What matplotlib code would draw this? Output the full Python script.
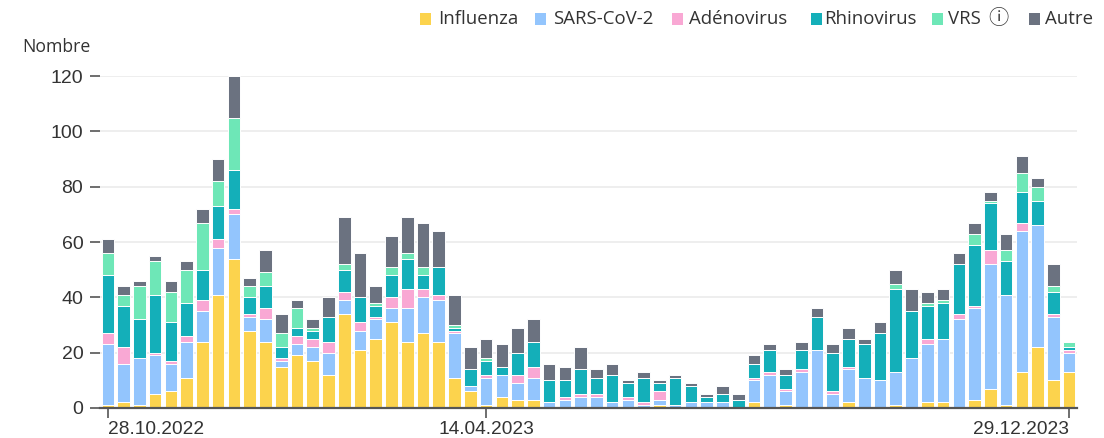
import numpy as np
import pandas as pd
import matplotlib
matplotlib.use('Agg')
import matplotlib.pyplot as plt
from matplotlib.patches import Rectangle

weeks = pd.date_range('2022-10-28', periods=62, freq='7D')

influenza = [1, 2, 1, 5, 6, 11, 24, 41, 54, 28, 24, 15, 19, 17, 12, 34, 21, 25, 31, 24,
             27, 24, 11, 6, 1, 4, 3, 3, 0, 0, 0, 0, 0, 0, 0, 1, 0, 0, 0, 0,
             0, 2, 0, 1, 0, 0, 0, 2, 0, 0, 1, 0, 2, 2, 0, 3, 7, 1, 13, 22, 10, 13]
sars = [22, 14, 17, 14, 10, 13, 11, 17, 16, 5, 8, 2, 4, 5, 8, 5, 7, 7, 5, 12,
        13, 15, 16, 2, 10, 8, 6, 8, 2, 3, 4, 4, 2, 3, 1, 2, 1, 2, 2, 2,
        0, 8, 12, 5, 13, 21, 5, 12, 11, 10, 12, 18, 21, 23, 32, 33, 45, 40, 51, 44, 23, 7]
adeno = [4, 6, 0, 1, 1, 2, 4, 3, 2, 1, 4, 1, 3, 3, 4, 3, 3, 1, 4, 7,
         3, 2, 1, 0, 1, 0, 3, 4, 0, 1, 1, 1, 0, 1, 1, 3, 0, 0, 0, 0,
         0, 1, 1, 1, 1, 0, 1, 1, 0, 0, 0, 0, 2, 0, 2, 1, 5, 0, 3, 0, 1, 1]
rhino = [21, 15, 14, 21, 14, 12, 11, 12, 14, 6, 8, 4, 3, 3, 9, 8, 9, 4, 8, 11,
         5, 10, 1, 6, 5, 3, 8, 9, 8, 6, 9, 6, 10, 5, 9, 3, 10, 6, 2, 3,
         3, 5, 8, 5, 7, 12, 14, 10, 12, 17, 30, 17, 12, 13, 18, 22, 17, 12, 11, 9, 8, 1]
vrs = [8, 4, 12, 12, 11, 12, 17, 9, 19, 4, 5, 5, 7, 1, 0, 2, 0, 1, 3, 2,
       3, 0, 1, 0, 1, 0, 0, 0, 0, 0, 0, 0, 0, 0, 0, 0, 0, 0, 0, 0,
       0, 0, 0, 0, 0, 0, 0, 0, 0, 0, 2, 0, 1, 1, 0, 4, 1, 4, 7, 5, 2, 2]
autre = [5, 3, 2, 2, 4, 3, 5, 8, 15, 3, 8, 7, 3, 3, 7, 17, 16, 6, 11, 13,
         16, 13, 11, 8, 7, 8, 9, 8, 6, 5, 8, 3, 4, 1, 2, 1, 1, 1, 1, 3,
         2, 3, 2, 2, 3, 3, 3, 4, 2, 4, 5, 8, 4, 4, 4, 4, 3, 6, 6, 3, 8, 0]

series = ['Influenza', 'SARS-CoV-2', 'Adénovirus', 'Rhinovirus', 'VRS', 'Autre']
values = [influenza, sars, adeno, rhino, vrs, autre]
colors = ['#FCD34D', '#93C5FD', '#F9A8D4', '#14AFB9', '#6EE7B7', '#6B7280']

tick_dates = ['2022-10-28', '2023-04-14', '2023-12-29']
tick_labels = ['28.10.2022', '14.04.2023', '29.12.2023']

fig = plt.figure(figsize=(11.04, 4.38), dpi=100)
W, H = 1104, 438
ax = fig.add_axes([100 / W, 30 / H, (1077 - 100) / W, (408 - 76) / H])

x = np.arange(len(weeks))
bottom = np.zeros(len(weeks))
for name, vals, c in zip(series, values, colors):
    v = np.array(vals, dtype=float)
    ax.bar(x, v, bottom=bottom, width=0.8, color=c, edgecolor='white',
           linewidth=0.7, label=name, zorder=3, clip_on=False)
    bottom += v

ax.set_xlim(-0.5, len(weeks) - 0.5)
ax.set_ylim(0, 120)
ax.set_yticks(range(0, 121, 20))
ax.grid(axis='y', color='#ebebeb', linewidth=1.2, zorder=0)
for s in ['top', 'right', 'left']:
    ax.spines[s].set_visible(False)
ax.spines['bottom'].set_color('#555555')
ax.spines['bottom'].set_linewidth(1.6)
ax.spines['bottom'].set_zorder(4)

ax.tick_params(axis='y', length=7, width=1.2, color='#555555', pad=5,
               labelsize=14, labelcolor='#333333')
for lab in ax.get_yticklabels():
    lab.set_fontfamily('Liberation Sans')

pos = [weeks.get_loc(pd.Timestamp(d)) for d in tick_dates]
ax.set_xticks(pos)
ax.set_xticklabels(tick_labels, fontfamily='Liberation Sans', fontsize=13.8,
                   color='#333333')
ax.tick_params(axis='x', length=7, width=1.2, color='#555555', pad=2)
labs = ax.get_xticklabels()
labs[0].set_ha('left')
labs[-1].set_ha('right')

fig.text(22 / W, 1 - 47 / H, 'Nombre', fontfamily='Open Sans', fontsize=12.7,
         color='#333333', ha='left', va='center')

# legend row across the top
sq_x = [420, 535, 672, 811, 932, 1029]
tx_x = [438, 553, 689, 824, 948, 1045]
ly = 19
for name, c, sx, tx in zip(series, colors, sq_x, tx_x):
    fig.patches.append(Rectangle((sx / W, 1 - (ly + 5.5) / H), 10.5 / W, 11 / H,
                                 transform=fig.transFigure, facecolor=c,
                                 edgecolor='none'))
    fig.text(tx / W, 1 - ly / H, name, fontfamily='Open Sans', fontsize=13.4,
             color='#333333', ha='left', va='center')
fig.text(988 / W, 1 - (ly - 1) / H, 'ⓘ',
         fontfamily=['Noto Sans CJK JP', 'Noto Sans CJK SC', 'DejaVu Sans'],
         fontsize=14.5, color='#333333', ha='left', va='center')

fig.savefig('out.png', dpi=100)
